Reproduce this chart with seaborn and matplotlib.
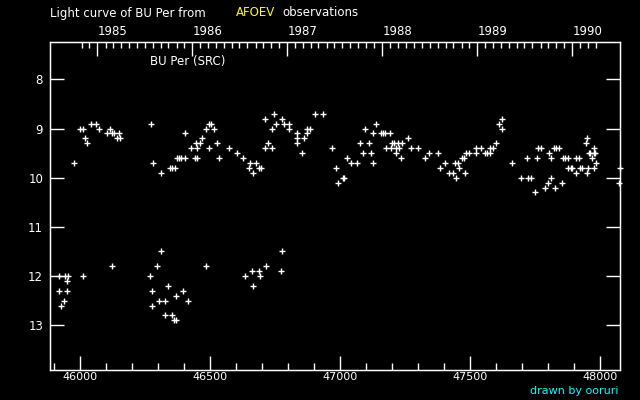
import pandas as pd
import matplotlib
matplotlib.use('Agg')
import matplotlib.pyplot as plt
import seaborn as sns

# BU Per visual estimates (JD - 2400000, magnitude)
bright_jd = [45975, 45998, 46009, 46017, 46025, 46040, 46061, 46071, 46105, 46113,
             46122, 46131, 46140, 46148, 46155, 46271, 46282, 46309, 46344, 46353,
             46363, 46371, 46380, 46389, 46405, 46405, 46425, 46440, 46444, 46448,
             46450, 46459, 46467, 46482, 46494, 46494, 46504, 46513, 46528, 46532,
             46571, 46602, 46625, 46648, 46652, 46663, 46678, 46686, 46694, 46709,
             46709, 46721, 46736, 46736, 46744, 46753, 46775, 46782, 46805, 46805,
             46832, 46832, 46834, 46855, 46859, 46871, 46871, 46882, 46902, 46932,
             46967, 46982, 46990, 47009, 47013, 47025, 47040, 47063, 47078, 47086,
             47094, 47109, 47117, 47125, 47128, 47136, 47155, 47163, 47172, 47178,
             47190, 47194, 47198, 47205, 47213, 47213, 47221, 47228, 47232, 47236,
             47259, 47271, 47298, 47328, 47340, 47378, 47382, 47402, 47417, 47432,
             47440, 47444, 47452, 47455, 47467, 47475, 47479, 47482, 47494, 47521,
             47521, 47541, 47555, 47563, 47575, 47575, 47586, 47598, 47609, 47621,
             47621, 47659, 47694, 47717, 47721, 47732, 47748, 47757, 47759, 47771,
             47786, 47798, 47802, 47809, 47811, 47821, 47825, 47829, 47840, 47852,
             47855, 47863, 47875, 47875, 47886, 47890, 47905, 47905, 47917, 47921,
             47928, 47944, 47948, 47948, 47952, 47955, 47959, 47967, 47975, 47975,
             47975, 47979, 47982, 48074, 48075]
bright_mag = [9.7, 9.0, 9.0, 9.2, 9.3, 8.9, 8.9, 9.0, 9.1, 9.0,
              9.1, 9.1, 9.2, 9.1, 9.2, 8.9, 9.7, 9.9, 9.8, 9.8,
              9.8, 9.6, 9.6, 9.6, 9.6, 9.1, 9.4, 9.6, 9.3, 9.4,
              9.6, 9.3, 9.2, 9.0, 8.9, 9.4, 8.9, 9.0, 9.3, 9.6,
              9.4, 9.5, 9.6, 9.8, 9.7, 9.9, 9.7, 9.8, 9.8, 8.8,
              9.4, 9.3, 9.4, 9.0, 8.7, 8.9, 8.8, 8.9, 8.9, 9.0,
              9.2, 9.3, 9.1, 9.5, 9.2, 9.1, 9.0, 9.0, 8.7, 8.7,
              9.4, 9.8, 10.1, 10.0, 10.0, 9.6, 9.7, 9.7, 9.3, 9.5,
              9.0, 9.3, 9.5, 9.1, 9.7, 8.9, 9.1, 9.1, 9.1, 9.4,
              9.1, 9.4, 9.3, 9.3, 9.4, 9.5, 9.3, 9.4, 9.6, 9.3,
              9.2, 9.4, 9.4, 9.6, 9.5, 9.5, 9.8, 9.7, 9.9, 9.9,
              9.7, 10.0, 9.7, 9.8, 9.6, 9.6, 9.9, 9.5, 9.5, 9.4,
              9.5, 9.4, 9.5, 9.5, 9.5, 9.4, 9.4, 9.3, 8.9, 8.8,
              9.0, 9.7, 10.0, 9.6, 10.0, 10.0, 10.3, 9.6, 9.4, 9.4,
              10.2, 10.1, 9.5, 10.0, 9.6, 9.4, 10.2, 9.4, 9.4, 10.1,
              9.6, 9.6, 9.6, 9.8, 9.8, 9.8, 9.6, 9.9, 9.6, 9.8,
              9.8, 9.3, 9.2, 9.9, 9.8, 9.5, 9.5, 9.6, 9.5, 9.4,
              9.8, 9.5, 9.7, 10.1, 9.8]

faint_jd = [45917, 45917, 45925, 45936, 45940, 45948, 45948, 45952, 46009, 46121,
            46267, 46275, 46278, 46294, 46305, 46309, 46325, 46328, 46336, 46355,
            46359, 46367, 46367, 46394, 46413, 46482, 46632, 46659, 46663, 46686,
            46690, 46713, 46774, 46775]
faint_mag = [12.0, 12.3, 12.6, 12.5, 12.0, 12.1, 12.3, 12.0, 12.0, 11.8,
             12.0, 12.6, 12.3, 11.8, 12.5, 11.5, 12.5, 12.8, 12.2, 12.8,
             12.9, 12.4, 12.9, 12.3, 12.5, 11.8, 12.0, 11.9, 12.2, 11.9,
             12.0, 11.8, 11.9, 11.5]

years = [1985, 1986, 1987, 1988, 1989, 1990]

df = pd.DataFrame({'jd': bright_jd + faint_jd, 'mag': bright_mag + faint_mag})

sns.set_style('ticks', rc={'axes.facecolor': 'black', 'figure.facecolor': 'black',
                           'axes.edgecolor': 'white', 'text.color': 'white',
                           'xtick.color': 'white', 'ytick.color': 'white',
                           'axes.labelcolor': 'white'})
plt.rcParams['font.family'] = ['DejaVu Sans']

fig = plt.figure(figsize=(6.4, 4.0), dpi=100)
ax = fig.add_axes([50 / 640, 1 - 370 / 400, 570 / 640, 328 / 400])

sns.scatterplot(data=df, x='jd', y='mag', marker='+', color='white', s=22,
                linewidth=1.0, ax=ax, legend=False, clip_on=False)

ax.set_xlim(45884, 48076)
ax.set_ylim(13.91, 7.24)
ax.set_xlabel('')
ax.set_ylabel('')

for sp in ax.spines.values():
    sp.set_color('white')
    sp.set_linewidth(1.0)

# bottom axis: JD ticks
ax.set_xticks(range(46000, 48001, 500))
ax.set_xticks(range(45900, 48076, 100), minor=True)
ax.set_yticks(range(8, 14))
ax.tick_params(axis='x', which='major', direction='in', length=10, width=1,
               labelsize=8, pad=1.5, top=False)
ax.tick_params(axis='x', which='minor', direction='in', length=5, width=1, top=False)
ax.tick_params(axis='y', which='major', direction='in', length=10, width=1,
               labelsize=8.5, pad=5, right=True)

# top axis: calendar years with monthly minor ticks
ax2 = ax.twiny()
ax2.set_xlim(ax.get_xlim())
year_jd = [pd.Timestamp(f'{y}-01-01').to_julian_date() - 2400000 for y in years]
months = pd.date_range('1984-11-01', '1990-04-01', freq='MS')
month_jd = [m.to_julian_date() - 2400000 for m in months]
ax2.set_xticks(year_jd)
ax2.set_xticklabels([str(y) for y in years])
ax2.set_xticks(month_jd, minor=True)
ax2.tick_params(axis='x', which='major', direction='in', length=10, width=1,
                labelsize=8.5, pad=3)
ax2.tick_params(axis='x', which='minor', direction='in', length=4, width=1)
for lbl in ax2.get_xticklabels():
    lbl.set_ha('left')
for sp in ax2.spines.values():
    sp.set_color('white')

fig.text(50 / 640, 1 - 13 / 400, 'Light curve of BU Per from', fontsize=8.5,
         color='white', ha='left', va='center')
fig.text(236 / 640, 1 - 13 / 400, 'AFOEV', fontsize=8.5, color='yellow',
         ha='left', va='center')
fig.text(282 / 640, 1 - 13 / 400, 'observations', fontsize=8.5, color='white',
         ha='left', va='center')
fig.text(150 / 640, 1 - 61 / 400, 'BU Per (SRC)', fontsize=8.5, color='white',
         ha='left', va='center')
fig.text(618 / 640, 1 - 391.5 / 400, 'drawn by ooruri', fontsize=8, color='cyan',
         ha='right', va='center')

fig.savefig('out.png', dpi=100, facecolor='black')
